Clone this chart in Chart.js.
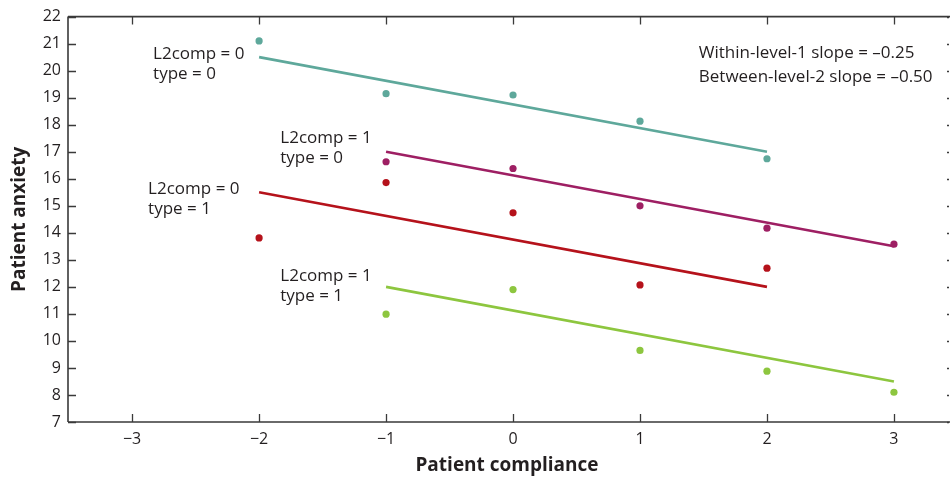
<!DOCTYPE html>
<html>
<head>
<meta charset="utf-8">
<script src="https://cdn.jsdelivr.net/npm/chart.js@4.4.1/dist/chart.umd.min.js"></script>
<style>
html,body{margin:0;padding:0;background:#fff;}
#wrap{width:950px;height:478px;}
</style>
</head>
<body>
<div id="wrap"><canvas id="c" width="950" height="478"></canvas></div>
<script>
// ---- data ----
const xTicks = [-3, -2, -1, 0, 1, 2, 3];
const yTicks = [7, 8, 9, 10, 11, 12, 13, 14, 15, 16, 17, 18, 19, 20, 21, 22];

const x_L0T0 = [-2, -1, 0, 1, 2];
const y_L0T0 = [21.1, 19.15, 19.1, 18.13, 16.74];
const x_L1T0 = [-1, 0, 1, 2, 3];
const y_L1T0 = [16.63, 16.38, 15.0, 14.17, 13.58];
const x_L0T1 = [-2, -1, 0, 1, 2];
const y_L0T1 = [13.81, 15.86, 14.74, 12.07, 12.69];
const x_L1T1 = [-1, 0, 1, 2, 3];
const y_L1T1 = [10.99, 11.9, 9.65, 8.88, 8.1];

// fitted lines (endpoints)
const fitX_L0T0 = [-2, 2];   const fitY_L0T0 = [20.5, 17.0];
const fitX_L1T0 = [-1, 3];   const fitY_L1T0 = [17.0, 13.5];
const fitX_L0T1 = [-2, 2];   const fitY_L0T1 = [15.5, 12.0];
const fitX_L1T1 = [-1, 3];   const fitY_L1T1 = [12.0, 8.5];

const colors = {
  L0T0: '#5ea89b',
  L1T0: '#9e1f63',
  L0T1: '#b5121b',
  L1T1: '#8dc63f'
};

const labels = [
  {lines: ['L2comp = 0', 'type = 0'], x: -2.835, y: 20.6, gap: 20},
  {lines: ['L2comp = 1', 'type = 0'], x: -1.833, y: 17.5, gap: 20},
  {lines: ['L2comp = 0', 'type = 1'], x: -2.874, y: 15.62, gap: 20},
  {lines: ['L2comp = 1', 'type = 1'], x: -1.833, y: 12.38, gap: 20},
  {lines: ['Within-level-1 slope = \u20130.25', 'Between-level-2 slope = \u20130.50'], x: 1.463, y: 20.64, gap: 24}
];

const pts = (xs, ys) => xs.map((x, i) => ({x: x, y: ys[i]}));
const TEXT = '#231f20';
const FONT = '"Open Sans", "Noto Sans", sans-serif';

function pointSet(xs, ys, col) {
  return {type: 'scatter', data: pts(xs, ys), showLine: false, pointRadius: 3.6,
    pointBackgroundColor: col, pointBorderWidth: 0, pointBorderColor: col, order: 1};
}
function lineSet(xs, ys, col) {
  return {type: 'line', data: pts(xs, ys), showLine: true, pointRadius: 0, borderColor: col,
    borderWidth: 2.6, fill: false, tension: 0, order: 2};
}

const framePlugin = {
  id: 'frame',
  afterDatasetsDraw(chart) {
    const ctx = chart.ctx;
    const a = chart.chartArea;
    const xs = chart.scales.x, ys = chart.scales.y;
    const right = chart.width;
    ctx.save();
    ctx.strokeStyle = '#3a3a3a';
    ctx.lineWidth = 1.6;
    ctx.beginPath();
    ctx.moveTo(a.left, a.top); ctx.lineTo(right, a.top);
    ctx.moveTo(a.left, a.bottom); ctx.lineTo(right, a.bottom);
    ctx.moveTo(a.left, a.top); ctx.lineTo(a.left, a.bottom);
    ctx.stroke();
    ctx.lineWidth = 1.3;
    ctx.beginPath();
    const L = 8;
    xTicks.forEach(v => {
      const px = Math.round(xs.getPixelForValue(v)) + 0.5;
      ctx.moveTo(px, a.bottom); ctx.lineTo(px, a.bottom - L);
      ctx.moveTo(px, a.top); ctx.lineTo(px, a.top + L);
    });
    yTicks.forEach(v => {
      const py = Math.round(ys.getPixelForValue(v)) + 0.5;
      ctx.moveTo(a.left, py); ctx.lineTo(a.left + L, py);
      ctx.moveTo(right - 1, py); ctx.lineTo(right - 3, py);
    });
    ctx.stroke();

    // annotations
    ctx.fillStyle = TEXT;
    ctx.font = '17px ' + FONT;
    ctx.textAlign = 'left';
    ctx.textBaseline = 'middle';
    labels.forEach(lb => {
      const px = xs.getPixelForValue(lb.x);
      const py = ys.getPixelForValue(lb.y);
      lb.lines.forEach((t, i) => ctx.fillText(t, px, py + i * lb.gap));
    });
    ctx.restore();
  }
};

const fmt = v => (v < 0 ? '\u2212' + Math.abs(v) : String(v));

new Chart(document.getElementById('c'), {
  data: {
    datasets: [
      lineSet(fitX_L0T0, fitY_L0T0, colors.L0T0),
      lineSet(fitX_L1T0, fitY_L1T0, colors.L1T0),
      lineSet(fitX_L0T1, fitY_L0T1, colors.L0T1),
      lineSet(fitX_L1T1, fitY_L1T1, colors.L1T1),
      pointSet(x_L0T0, y_L0T0, colors.L0T0),
      pointSet(x_L1T0, y_L1T0, colors.L1T0),
      pointSet(x_L0T1, y_L0T1, colors.L0T1),
      pointSet(x_L1T1, y_L1T1, colors.L1T1)
    ]
  },
  options: {
    responsive: false,
    animation: false,
    devicePixelRatio: 1,
    layout: {padding: {top: 15, right: 1, left: 2, bottom: 0}},
    plugins: {legend: {display: false}, tooltip: {enabled: false}},
    scales: {
      x: {
        type: 'linear', min: -3.505, max: 3.41,
        afterBuildTicks: s => { s.ticks = xTicks.map(v => ({value: v})); },
        afterFit: s => { s.height = 56; },
        grid: {display: false, drawTicks: false},
        border: {display: false},
        ticks: {color: TEXT, font: {family: FONT, size: 16}, padding: 8, callback: v => fmt(v), maxRotation: 0},
        title: {display: true, text: 'Patient compliance', color: TEXT,
          font: {family: FONT, size: 19, weight: 'bold'}, padding: {top: 4, bottom: 1}}
      },
      y: {
        type: 'linear', min: 7, max: 22,
        afterBuildTicks: s => { s.ticks = yTicks.map(v => ({value: v})); },
        afterFit: s => { s.width = 66; },
        grid: {display: false, drawTicks: false},
        border: {display: false},
        ticks: {color: TEXT, font: {family: FONT, size: 16}, padding: 7, callback: v => fmt(v)},
        title: {display: true, text: 'Patient anxiety', color: TEXT,
          font: {family: FONT, size: 19, weight: 'bold'}, padding: {top: 6, bottom: 4}}
      }
    }
  },
  plugins: [framePlugin]
});
</script>
</body>
</html>
